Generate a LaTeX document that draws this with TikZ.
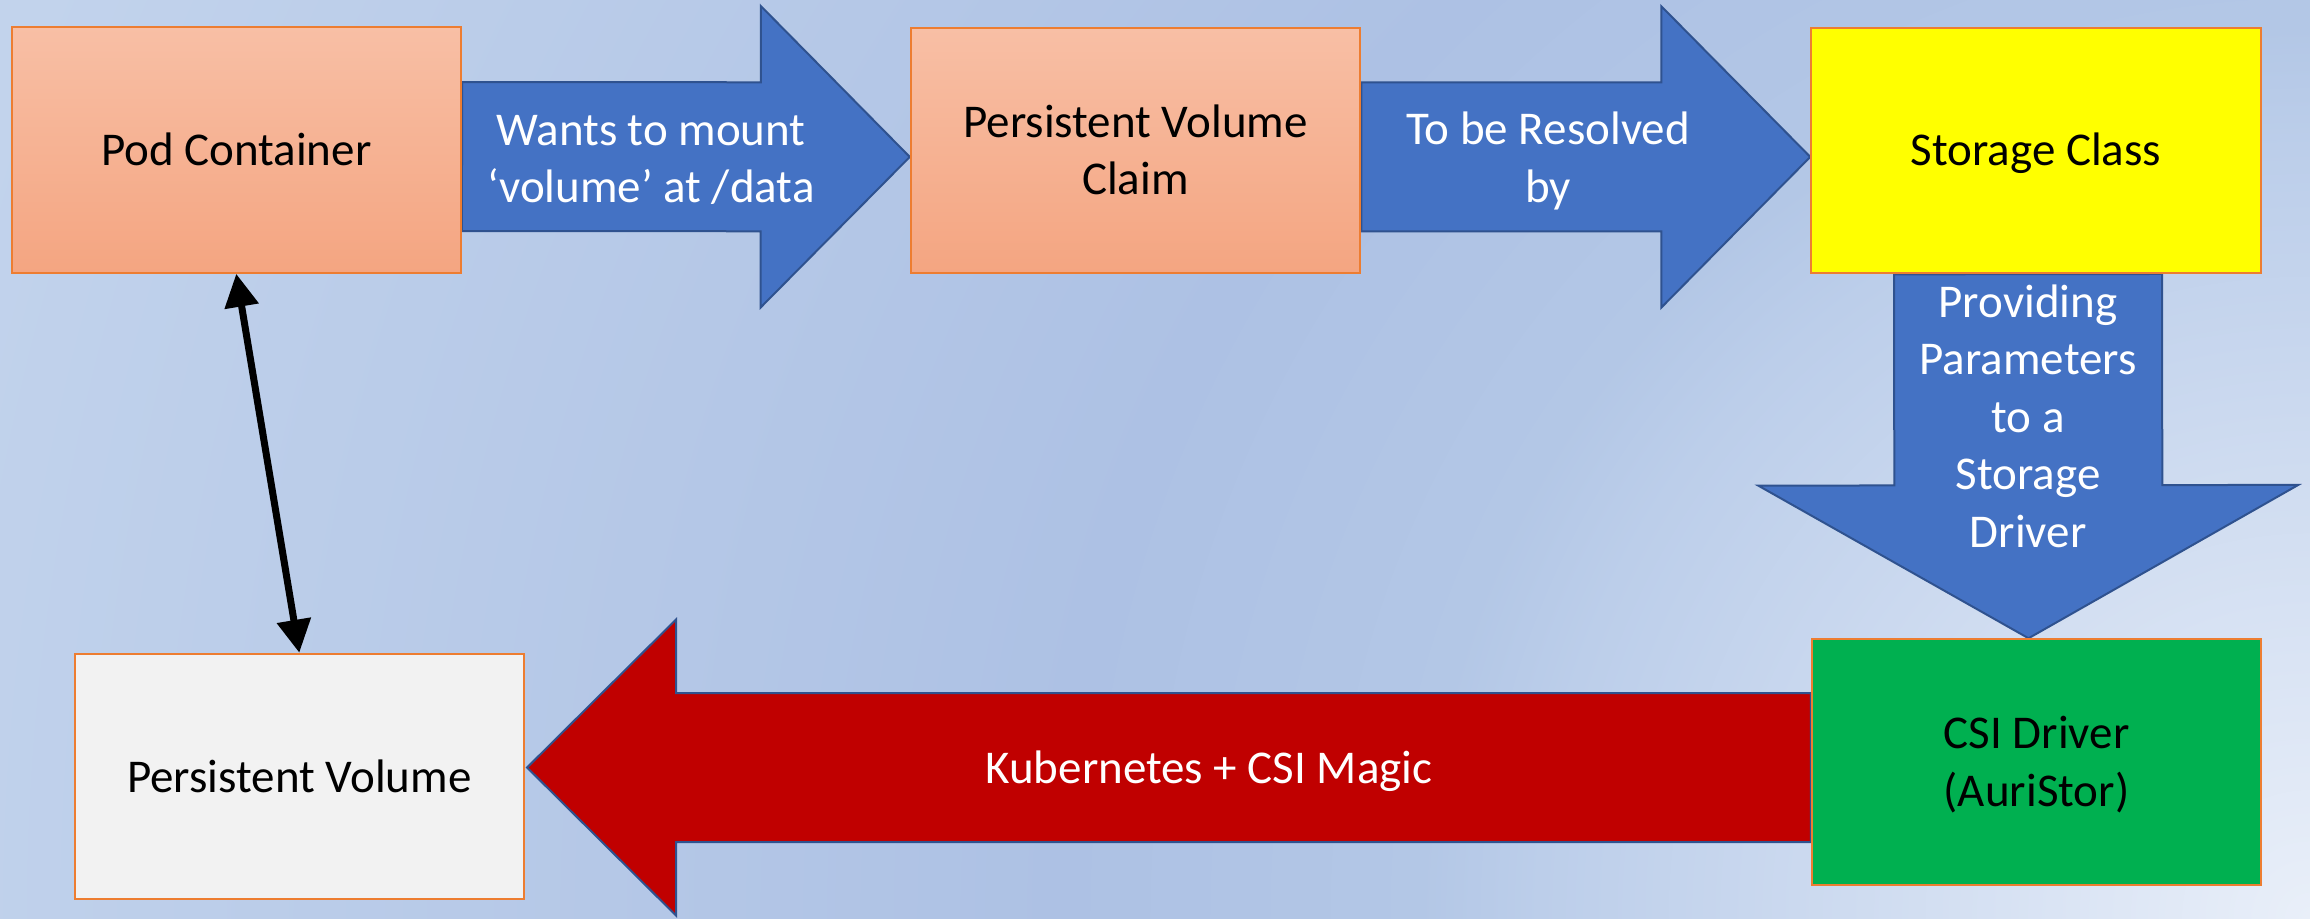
\documentclass[tikz,border=0pt]{standalone}
\usepackage{fontspec}
\setmainfont{Carlito}
\usetikzlibrary{calc,arrows.meta}

% palette
\definecolor{bgA}{HTML}{E9EFF9}
\definecolor{bgB}{HTML}{BCCEEA}
\definecolor{bgC}{HTML}{B3C7E6}
\definecolor{bgD}{HTML}{ADC1E4}
\definecolor{bgE}{HTML}{C2D3EC}
\definecolor{salmonTop}{HTML}{F8BFA5}
\definecolor{salmonBot}{HTML}{F4A581}
\definecolor{boxline}{HTML}{ED7D31}
\definecolor{flowblue}{HTML}{4472C4}
\definecolor{flowedge}{HTML}{2F528F}
\definecolor{flowred}{HTML}{C00000}
\definecolor{classyellow}{HTML}{FFFF00}
\definecolor{drivergreen}{HTML}{00B050}
\definecolor{volgrey}{HTML}{F2F2F2}

\pgfdeclarelayer{bglayer}
\pgfdeclarelayer{arrowlayer}
\pgfsetlayers{bglayer,arrowlayer,main}

% radial wash centred on the lower right corner
\pgfdeclareradialshading{slidebg}{\pgfpoint{0bp}{0bp}}{%
  color(0bp)=(bgA); color(7.7bp)=(bgB); color(8.9bp)=(bgC);
  color(12.5bp)=(bgD); color(24.5bp)=(bgE); color(50bp)=(bgE)}

% fixed line struts so every box label sits on the same baseline grid
\newcommand\topstrut{\rule{0pt}{22pt}}
\newcommand\botstrut{\rule[-6.5pt]{0pt}{6.5pt}}

% block arrow: #1 style, #2 start (shaft end), #3 tip,
% #4 half shaft width, #5 half head width, #6 head length
\newcommand\blockarrow[6]{%
  \path (#2) coordinate (ba-s) (#3) coordinate (ba-t);
  \path ($(ba-t)!#6!(ba-s)$) coordinate (ba-h);
  \path[#1] ($(ba-s)!#4!90:(ba-t)$) -- ($(ba-h)!#4!90:(ba-t)$)
    -- ($(ba-h)!#5!90:(ba-t)$) -- (ba-t) -- ($(ba-h)!#5!-90:(ba-t)$)
    -- ($(ba-h)!#4!-90:(ba-t)$) -- ($(ba-s)!#4!-90:(ba-t)$) -- cycle;
}

\tikzset{
  every node/.style={font=\fontsize{23.5pt}{28.75pt}\selectfont},
  box/.style={draw=boxline, line width=1pt, minimum width=224.75pt,
    minimum height=122.75pt, inner sep=0pt, align=center, text=black},
  salmon/.style={box, top color=salmonTop, bottom color=salmonBot},
  bluearrow/.style={fill=flowblue, draw=flowedge, line width=1pt},
  redarrow/.style={fill=flowred, draw=flowedge, line width=1pt},
  arrowtext/.style={text=white, align=center, inner sep=0pt},
  linkarrow/.style={line width=3.5pt,
    {Triangle[width=16.5pt,length=16.5pt]}-{Triangle[width=16.5pt,length=16.5pt]}}
}

\begin{document}
\begin{tikzpicture}[x=0.5pt, y=-0.5pt]
\useasboundingbox (0,0) rectangle (2310,918);

\begin{pgfonlayer}{bglayer}
  \begin{scope}
    \clip (0,0) rectangle (2310,918);
    \shade[shading=slidebg] (2310,918) circle [radius=1250pt];
  \end{scope}
\end{pgfonlayer}

% boxes
\node[salmon] (pod) at (236.25,150) {\topstrut Pod Container\botstrut};
\node[salmon] (pvc) at (1135.5,150.4) {\topstrut Persistent Volume\\Claim\botstrut};
\node[box, fill=classyellow] (sc) at (2036,150.4) {\topstrut Storage Class\botstrut};
\node[box, fill=drivergreen] (csi) at (2036.5,762) {\topstrut CSI Driver\\(AuriStor)\botstrut};
\node[box, fill=volgrey] (pv) at (299.3,776.5) {\topstrut Persistent Volume\botstrut};

% block arrows between the boxes
\begin{pgfonlayer}{arrowlayer}
  \blockarrow{bluearrow}{$(pod.east)+(0,6.5)$}{$(pvc.west)+(0,6.5)$}{37.25pt}{75.35pt}{74.5pt}
  \blockarrow{bluearrow}{$(pvc.east)+(0,6.5)$}{$(sc.west)+(0,6.5)$}{37.25pt}{75.35pt}{74.5pt}
  \blockarrow{bluearrow}{$(sc.south)+(-8,0)$}{$(csi.north)+(-8,0)$}{67pt}{135pt}{76.5pt}
  \blockarrow{redarrow}{$(csi.west)+(0,5.5)$}{$(pv.east)+(2,-9)$}{37.25pt}{74pt}{74.5pt}
\end{pgfonlayer}

% arrow labels
\node[arrowtext] (lbl-mount) at (651,160) {Wants to mount\\‘volume’ at /data};
\node[arrowtext] (lbl-resolve) at (1548,161) {To be Resolved\\by};
\node[arrowtext] (lbl-params) at (2028,416) {Providing\\Parameters\\to a\\Storage\\Driver};
\node[arrowtext, anchor=base] (lbl-magic) at (1209,783) {Kubernetes + CSI Magic};

% pod <-> volume link
\draw[linkarrow] (pod.south) -- (pv.north);
\end{tikzpicture}
\end{document}
